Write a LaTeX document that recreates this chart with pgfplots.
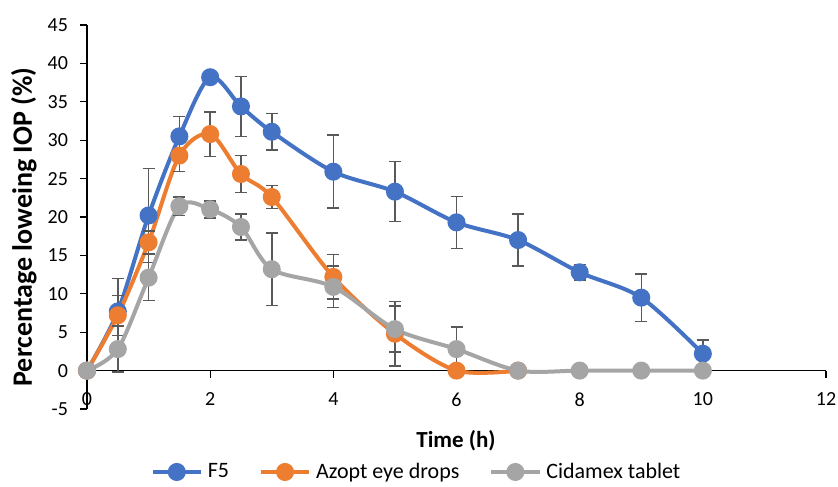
\documentclass[border=0pt]{standalone}
\usepackage{pgfplots}
\pgfplotsset{compat=1.18}
\usepackage{fontspec}
\setmainfont{Carlito}

\definecolor{f5blue}{HTML}{4472C4}
\definecolor{azorange}{HTML}{ED7D31}
\definecolor{cidgray}{HTML}{A5A5A5}
\definecolor{errgray}{HTML}{595959}

\begin{document}
\begin{tikzpicture}
  \begin{axis}[
      name=ax,
      scale only axis,
      width=369.5pt, height=192pt,
      xmin=0, xmax=12, ymin=-5, ymax=45,
      xtick={0,2,...,12}, ytick={-5,0,...,45},
      axis lines=middle,
      axis line style={-, black, line width=0.6pt},
      hide obscured x ticks=false, hide obscured y ticks=false,
      tick align=outside,
      major tick length=3.5pt,
      tick style={black, line width=0.6pt},
      /pgf/number format/assume math mode=true,
      ticklabel style={font=\fontsize{10}{12}\selectfont},
      xticklabel style={yshift=-4pt},
      yticklabel style={xshift=-2.5pt},
      every axis x label/.style={at={(axis description cs:0.4993,-0.083)}, anchor=center,
        font=\fontsize{11.5}{13}\selectfont\bfseries},
      every axis y label/.style={at={(axis description cs:-0.0853,0.474)}, rotate=90, anchor=center,
        font=\fontsize{14}{16}\selectfont\bfseries},
      xlabel={Time (h)},
      ylabel={Percentage loweing IOP (\%)},
      legend style={at={(axis description cs:0.448,-0.164)}, anchor=center,
        draw=none, legend columns=-1, font=\fontsize{11}{13}\selectfont,
        nodes={inner sep=2.5pt},
        /tikz/every even column/.append style={column sep=12.5pt}},
      legend image code/.code={\draw[mark repeat=2, mark phase=2, #1]
        plot coordinates {(0pt,0pt) (12pt,0pt) (24pt,0pt)};},
      every axis plot/.append style={line width=2pt, smooth, tension=0.5,
        mark=*, mark size=3.5pt},
      error bars/y dir=both, error bars/y explicit,
      error bars/error bar style={errgray, line width=0.75pt},
      error bars/error mark options={rotate=90, mark size=3pt, errgray, line width=0.75pt},
    ]
    \addplot[color=f5blue, mark options={fill=f5blue}] coordinates {
      (0,0) +- (0,0)
      (0.5,7.7) +- (0,4.3)
      (1,20.2) +- (0,6.1)
      (1.5,30.5) +- (0,2.6)
      (2,38.2) +- (0,0)
      (2.5,34.4) +- (0,3.9)
      (3,31.1) +- (0,2.4)
      (4,25.9) +- (0,4.75)
      (5,23.3) +- (0,3.9)
      (6,19.3) +- (0,3.4)
      (7,17.0) +- (0,3.4)
      (8,12.8) +- (0,1.0)
      (9,9.5) +- (0,3.1)
      (10,2.2) +- (0,1.8)
    };
    \addlegendentry{F5}
    \addplot[color=azorange, mark options={fill=azorange}] coordinates {
      (0,0) +- (0,0)
      (0.5,7.2) +- (0,2.6)
      (1,16.7) +- (0,1.5)
      (1.5,28.0) +- (0,2.1)
      (2,30.8) +- (0,2.9)
      (2.5,25.6) +- (0,2.4)
      (3,22.6) +- (0,1.5)
      (4,12.2) +- (0,2.9)
      (5,4.8) +- (0,4.2)
      (6,0) +- (0,0)
      (7,0) +- (0,0)
    };
    \addlegendentry{Azopt eye drops}
    \addplot[color=cidgray, mark options={fill=cidgray}] coordinates {
      (0,0) +- (0,0)
      (0.5,2.8) +- (0,3.0)
      (1,12.1) +- (0,3.0)
      (1.5,21.4) +- (0,1.2)
      (2,21.0) +- (0,1.1)
      (2.5,18.7) +- (0,1.7)
      (3,13.2) +- (0,4.7)
      (4,10.9) +- (0,2.7)
      (5,5.4) +- (0,3.0)
      (6,2.8) +- (0,2.9)
      (7,0) +- (0,0)
      (8,0) +- (0,0)
      (9,0) +- (0,0)
      (10,0) +- (0,0)
    };
    \addlegendentry{Cidamex tablet}
  \end{axis}
  \pgfresetboundingbox
  \path ([shift={(-43.5pt,-38.5pt)}]ax.south west) rectangle ([shift={(6pt,12.5pt)}]ax.north east);
\end{tikzpicture}
\end{document}
